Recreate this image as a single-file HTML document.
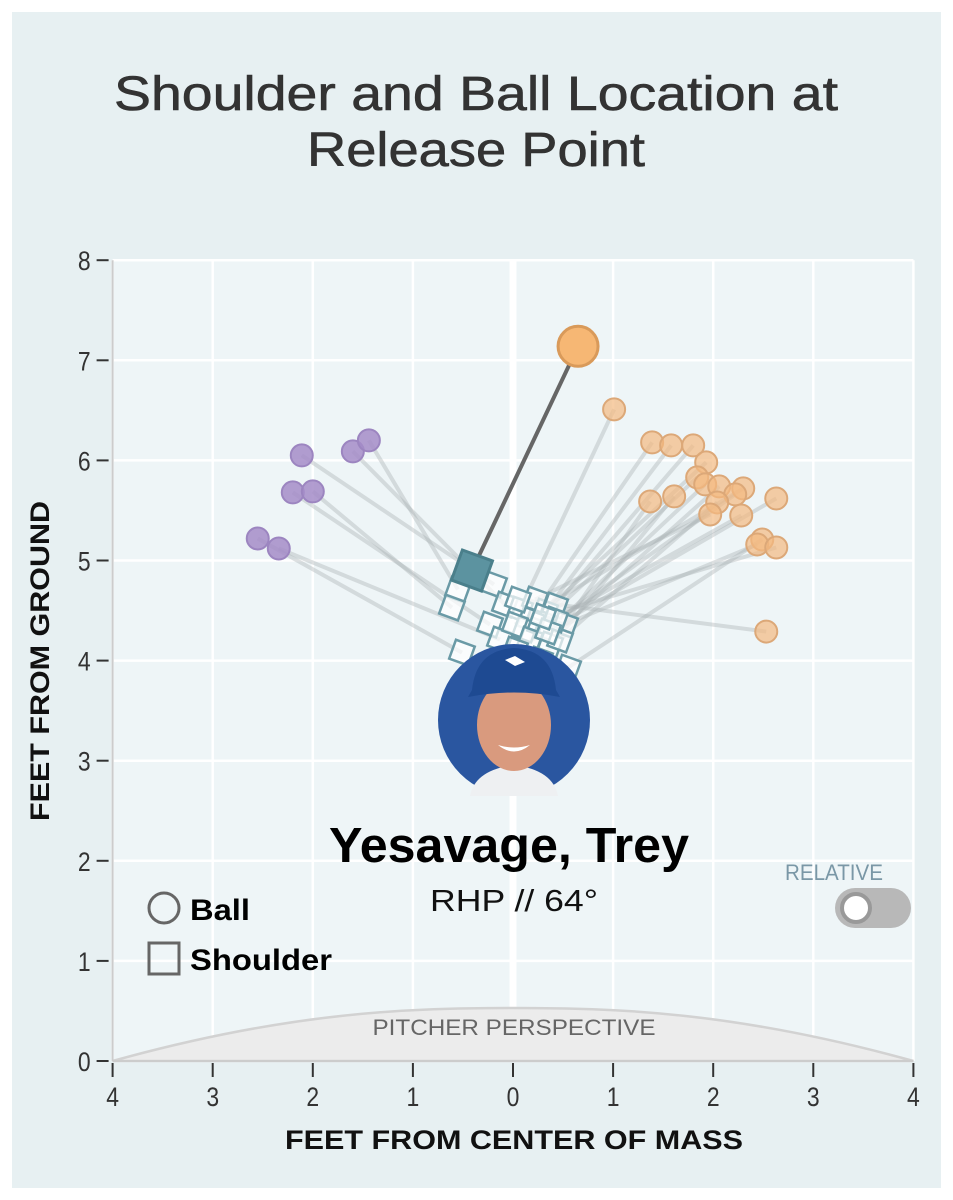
<!DOCTYPE html>
<html><head><meta charset="utf-8"><style>
body{margin:0;background:#fff;}
#wrap{position:relative;width:953px;height:1200px;background:#fff;font-family:"Liberation Sans",sans-serif;}
#panel{position:absolute;left:12px;top:12px;width:929px;height:1176px;background:#e7f0f2;}
svg{position:absolute;left:0;top:0;}
</style></head><body>
<div id="wrap">
<div id="panel"></div>
<svg id="chart" width="953" height="1200"></svg>
</div>
<script>
const xTicks=[-4,-3,-2,-1,0,1,2,3,4];
const xTickLabels=["4","3","2","1","0","1","2","3","4"];
const yTicks=[0,1,2,3,4,5,6,7,8];
const purpleBallX=[-2.11,-1.60,-1.44,-2.20,-2.00,-2.55,-2.34];
const purpleBallY=[6.05,6.09,6.20,5.68,5.69,5.22,5.12];
const orangeBallX=[1.01,1.39,1.58,1.80,1.93,1.84,1.92,2.06,2.30,2.22,1.37,1.61,2.04,1.97,2.28,2.63,2.49,2.44,2.63,2.53];
const orangeBallY=[6.51,6.18,6.15,6.15,5.98,5.83,5.76,5.74,5.72,5.66,5.59,5.64,5.58,5.46,5.45,5.62,5.21,5.16,5.13,4.29];
const purpleShX=[-0.19,-0.08,-0.55,-0.23,-0.61,-0.51,-0.13];
const purpleShY=[4.76,4.56,4.71,4.36,4.53,4.08,4.21];
const orangeShX=[0.07,0.17,0.32,0.42,0.12,0.27,0.37,0.52,0.02,0.17,0.37,0.27,0.47,0.22,0.42,0.02,0.55,0.35,0.30,0.05];
const orangeShY=[4.51,4.41,4.49,4.55,4.31,4.36,4.31,4.36,4.36,4.21,4.16,4.01,4.21,4.61,4.41,4.11,3.93,4.29,4.44,4.61];
const mainBall=[0.65,7.14];
const mainShoulder=[-0.41,4.90];

const NS="http://www.w3.org/2000/svg";
const svg=document.getElementById('chart');
const X0=513,Y0=1061,K=100.1;
function sx(v){return X0+v*K;}
function sy(v){return Y0-v*K;}
function mk(tag,attrs,parent){const e=document.createElementNS(NS,tag);for(const k in attrs)e.setAttribute(k,attrs[k]);(parent||svg).appendChild(e);return e;}
function txt(s,attrs){const t=mk('text',attrs);t.textContent=s;return t;}

let t1=txt("Shoulder and Ball Location at",{x:476,y:110,'text-anchor':'middle','font-size':48,fill:'#333',stroke:'#333','stroke-width':0.6,textLength:724,lengthAdjust:'spacingAndGlyphs'});


let t2=txt("Release Point",{x:476,y:166,'text-anchor':'middle','font-size':48,fill:'#333',stroke:'#333','stroke-width':0.6,textLength:338,lengthAdjust:'spacingAndGlyphs'});



let bg=mk('rect',{x:sx(-4),y:sy(8),width:8*K,height:8*K,fill:'#eef5f7'});


xTicks.forEach(v=>{const g=mk('line',{x1:sx(v),x2:sx(v),y1:sy(8),y2:sy(0),stroke:'#fff','stroke-width':v===0?7:2.5});

});
yTicks.forEach(v=>{const g=mk('line',{x1:sx(-4),x2:sx(4),y1:sy(v),y2:sy(v),stroke:'#fff','stroke-width':2.5});

});

let mound=mk('path',{d:`M${sx(-4)},${sy(0)} C${sx(-2.2)},${sy(0.5)} ${sx(-1)},${sy(0.53)} ${sx(0)},${sy(0.53)} C${sx(1)},${sy(0.53)} ${sx(2.2)},${sy(0.5)} ${sx(4)},${sy(0)} Z`,fill:'#ececec',stroke:'#d2d2d2','stroke-width':2.5});


let ml=txt("PITCHER PERSPECTIVE",{x:514,y:1035,'text-anchor':'middle','font-size':22,fill:'#666',textLength:283,lengthAdjust:'spacingAndGlyphs'});



let ya=mk('line',{x1:sx(-4),x2:sx(-4),y1:sy(8),y2:sy(0),stroke:'#ccc','stroke-width':2});


let xa=mk('line',{x1:sx(-4),x2:sx(4),y1:sy(0),y2:sy(0),stroke:'#ccc','stroke-width':2});


yTicks.forEach(v=>{
 const tk=mk('line',{x1:sx(-4)-16,x2:sx(-4)-4,y1:sy(v),y2:sy(v),stroke:'#333','stroke-width':2});
 
 
 const l=txt(String(v),{x:sx(-4)-22,y:sy(v)+10,'text-anchor':'end','font-size':27,fill:'#333',transform:`translate(${(sx(-4)-22)*0.15},0) scale(0.85,1)`});
 
 
});
xTicks.forEach((v,i)=>{
 const tk=mk('line',{x1:sx(v),x2:sx(v),y1:sy(0)+2,y2:sy(0)+16,stroke:'#333','stroke-width':2});
 
 
 const l=txt(xTickLabels[i],{x:sx(v),y:sy(0)+45,'text-anchor':'middle','font-size':27,fill:'#333',transform:`translate(${sx(v)*0.15},0) scale(0.85,1)`});
 
 
});
let xt=txt("FEET FROM CENTER OF MASS",{x:514,y:1149,'text-anchor':'middle','font-size':27,'font-weight':'bold',fill:'#111',textLength:458,lengthAdjust:'spacingAndGlyphs'});


let yt=txt("FEET FROM GROUND",{x:0,y:0,'text-anchor':'middle','font-size':27,'font-weight':'bold',fill:'#111',textLength:320,lengthAdjust:'spacingAndGlyphs',transform:'translate(49,661) rotate(-90)'});



function conn(bx,by,shx,shy){const l=mk('line',{x1:sx(bx),y1:sy(by),x2:sx(shx),y2:sy(shy),stroke:'#a9b1b4','stroke-width':4,'stroke-opacity':0.4});

}
purpleBallX.forEach((v,i)=>conn(v,purpleBallY[i],purpleShX[i],purpleShY[i]));
orangeBallX.forEach((v,i)=>conn(v,orangeBallY[i],orangeShX[i],orangeShY[i]));

function sq(x,y,s,fill,stroke,sw){const g=mk('rect',{x:sx(x)-s/2,y:sy(y)-s/2,width:s,height:s,fill:fill,stroke:stroke,'stroke-width':sw,transform:`rotate(20 ${sx(x)} ${sy(y)})`});return g;}
purpleShX.concat(orangeShX).forEach((v,i)=>{const y=purpleShY.concat(orangeShY)[i];
 const r=sq(v,y,20,'rgba(255,255,255,0.7)','#6a9aa6',2.5);
 
 });

purpleBallX.forEach((v,i)=>{const c=mk('circle',{cx:sx(v),cy:sy(purpleBallY[i]),r:11,fill:'#a58cc8','fill-opacity':0.85,stroke:'#9c85c0','stroke-width':2});
 
 });
orangeBallX.forEach((v,i)=>{const c=mk('circle',{cx:sx(v),cy:sy(orangeBallY[i]),r:11,fill:'#f3b980','fill-opacity':0.7,stroke:'#dca878','stroke-width':2});
 
 });

let ml2=mk('line',{x1:sx(mainBall[0]),y1:sy(mainBall[1]),x2:sx(mainShoulder[0]),y2:sy(mainShoulder[1]),stroke:'#666','stroke-width':4});


let msq=sq(mainShoulder[0],mainShoulder[1],32,'#5c93a0','#4a7f8b',3);


let mb=mk('circle',{cx:sx(mainBall[0]),cy:sy(mainBall[1]),r:20,fill:'#f6b774',stroke:'#d99a5a','stroke-width':3});



const hs=mk('g',{});


mk('circle',{cx:514,cy:720,r:76,fill:'#2a56a0'},hs);
mk('path',{d:'M470,796 Q475,770 514,765 Q553,770 558,796 Z',fill:'#eef0f2'},hs);
mk('ellipse',{cx:514,cy:725,rx:37,ry:46,fill:'#d99a7e'},hs);
mk('path',{d:'M472,690 Q476,650 514,648 Q552,650 556,690 L560,697 Q514,688 468,697 Z',fill:'#1e4a92'},hs);
mk('path',{d:'M505,660 l10,-4 l10,6 l-10,4z',fill:'#fff'},hs);
mk('path',{d:'M498,745 Q514,758 530,745 Q514,750 498,745z',fill:'#fff'},hs);

let nm=txt("Yesavage, Trey",{x:509,y:862,'text-anchor':'middle','font-size':49,'font-weight':'bold',fill:'#000',textLength:360,lengthAdjust:'spacingAndGlyphs'});


let sub=txt("RHP // 64°",{x:514,y:911,'text-anchor':'middle','font-size':31,fill:'#111',textLength:168,lengthAdjust:'spacingAndGlyphs'});



let lb=mk('circle',{cx:164,cy:908,r:15,fill:'none',stroke:'#666','stroke-width':3});


let lbt=txt("Ball",{x:190,y:920,'font-size':30,'font-weight':'bold',fill:'#000',textLength:60,lengthAdjust:'spacingAndGlyphs'});


let ls=mk('rect',{x:149,y:943,width:30,height:31,fill:'none',stroke:'#666','stroke-width':3});


let lst=txt("Shoulder",{x:190,y:970,'font-size':30,'font-weight':'bold',fill:'#000',textLength:142,lengthAdjust:'spacingAndGlyphs'});



let rl=txt("RELATIVE",{x:834,y:880,'text-anchor':'middle','font-size':22,fill:'#7a97a6',textLength:98,lengthAdjust:'spacingAndGlyphs'});


let tg=mk('rect',{x:835,y:888,width:76,height:40,rx:20,fill:'#b8b8b8'});


let kn=mk('circle',{cx:856,cy:908,r:14,fill:'#fff',stroke:'#999','stroke-width':4});


</script>
</body></html>
